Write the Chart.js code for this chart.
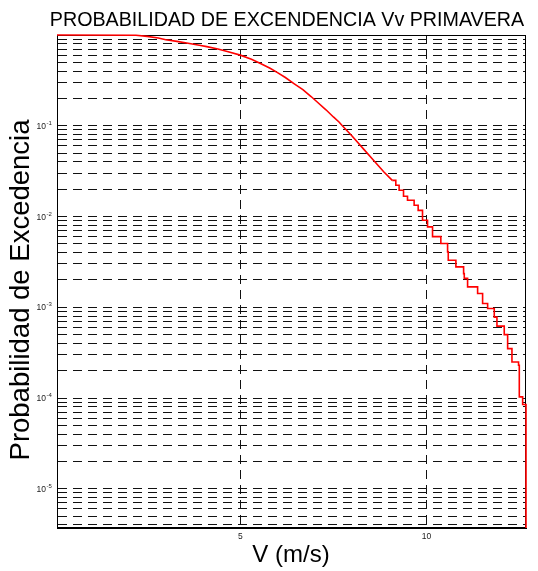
<!DOCTYPE html>
<html><head><meta charset="utf-8">
<script src="https://cdn.jsdelivr.net/npm/chart.js@4"></script>
<style>html,body{margin:0;padding:0;background:#fff;overflow:hidden}</style>
</head><body>
<canvas id="c" width="538" height="571" style="display:block;width:538px;height:571px"></canvas>
<script>
const titleText = 'PROBABILIDAD DE EXCENDENCIA Vv PRIMAVERA';
const xTitle = 'V (m/s)';
const yTitle = 'Probabilidad de Excedencia';

// upper part of the curve (steps too fine to resolve: drawn as a line)
const speedUpper = [0.08, 2.2, 2.5, 2.8, 3.0, 3.3, 3.6, 3.9, 4.1, 4.4, 4.7, 5.0, 5.3, 5.57, 5.8, 6.0, 6.21, 6.45, 6.68, 6.9, 7.05, 7.3, 7.5, 7.65, 7.74, 8.0, 8.3, 8.6, 8.85, 9.08];
const exceedUpper = [1.0, 0.995, 0.965, 0.925, 0.885, 0.85, 0.81, 0.77, 0.745, 0.70, 0.65, 0.60, 0.54, 0.48, 0.43, 0.385, 0.34, 0.29, 0.25, 0.21, 0.185, 0.15, 0.125, 0.11, 0.10, 0.077, 0.056, 0.0407, 0.0311, 0.025];
// tail of the curve (visible stairs)
const speedTail = [9.08, 9.175, 9.264, 9.382, 9.489, 9.667, 9.775, 9.892, 10.027, 10.161, 10.384, 10.565, 10.583, 10.788, 10.995, 11.013, 11.102, 11.371, 11.505, 11.64, 11.818, 11.89, 12.086, 12.177, 12.293, 12.47, 12.49, 12.58, 12.67];
const exceedTail = [0.025, 0.0221, 0.0195, 0.0167, 0.0151, 0.0133, 0.0117, 0.0091, 0.0077, 0.0060, 0.00504, 0.00408, 0.0033, 0.00279, 0.00235, 0.00208, 0.00168, 0.00142, 0.0011, 0.00097, 0.00078, 0.00062, 0.0005, 0.00035, 0.00025, 0.00023, 0.000103, 0.000085, 0.0000037];

const xTickValues = [5, 10];
const yTickExponents = [-1, -2, -3, -4, -5];
const xRange = [0.08, 12.67];
const yRange = [3.7e-6, 1];

const FONT = "'Liberation Sans', Arial, sans-serif";

function logGridTicks(min, max) {
  const t = [];
  for (let k = Math.floor(Math.log10(min)); k <= Math.ceil(Math.log10(max)); k++) {
    for (let m = 1; m <= 9; m++) {
      const v = m * Math.pow(10, k);
      if (v >= min * 0.999 && v <= max * 1.001) t.push({value: v});
    }
  }
  return t;
}

const framePlugin = {
  id: 'frame',
  beforeDatasetsDraw(chart) {
    const {ctx, chartArea: a} = chart;
    ctx.save();
    ctx.strokeStyle = '#000';
    ctx.lineWidth = 1;
    ctx.strokeRect(Math.round(a.left) + 0.5, Math.round(a.top) + 0.5,
      Math.round(a.right - a.left) - 1, Math.round(a.bottom - a.top) - 1);
    ctx.restore();
  },
  afterDraw(chart) {
    const {ctx} = chart;
    const ys = chart.scales.y;
    ctx.save();
    ctx.fillStyle = '#000';
    ctx.font = '19.7px ' + FONT;
    ctx.textAlign = 'center';
    ctx.textBaseline = 'alphabetic';
    ctx.fillText(titleText, 287, 26);
    ctx.font = '24px ' + FONT;
    ctx.fillText(xTitle, 291, 562);
    ctx.save();
    ctx.translate(29, 290);
    ctx.rotate(-Math.PI / 2);
    ctx.font = '27.5px ' + FONT;
    ctx.fillText(yTitle, 0, 0);
    ctx.restore();
    ctx.fillStyle = '#222';
    yTickExponents.forEach(e => {
      const py = ys.getPixelForValue(Math.pow(10, e));
      ctx.textAlign = 'right';
      ctx.font = '8.5px ' + FONT;
      ctx.fillText('10', 46, py + 3);
      ctx.textAlign = 'left';
      ctx.font = '6px ' + FONT;
      ctx.fillText(String(e), 46.5, py - 1);
    });
    ctx.restore();
  }
};

const lineStyle = {borderColor: '#ff0000', borderWidth: 1.6, pointRadius: 0, fill: false, clip: 4};

new Chart(document.getElementById('c'), {
  type: 'line',
  data: {
    datasets: [
      Object.assign({data: speedUpper.map((v, i) => ({x: v, y: exceedUpper[i]})), tension: 0}, lineStyle),
      Object.assign({data: speedTail.map((v, i) => ({x: v, y: exceedTail[i]})), stepped: 'before'}, lineStyle)
    ]
  },
  options: {
    responsive: false,
    animation: false,
    events: [],
    layout: {padding: {left: 57, top: 35, right: 12, bottom: 0}},
    plugins: {legend: {display: false}, tooltip: {enabled: false}, title: {display: false}},
    scales: {
      x: {
        type: 'linear', min: xRange[0], max: xRange[1],
        afterBuildTicks: s => { s.ticks = xTickValues.map(v => ({value: v})); },
        afterFit: s => { s.height = 43; },
        grid: {color: '#111', lineWidth: 1, drawTicks: false},
        border: {display: true, color: '#000', width: 1, dash: [9, 6]},
        ticks: {font: {size: 8.5, family: FONT}, color: '#222', padding: 4, maxRotation: 0, autoSkip: false}
      },
      y: {
        type: 'logarithmic', min: yRange[0], max: yRange[1],
        afterBuildTicks: s => { s.ticks = logGridTicks(yRange[0], yRange[1]); },
        afterFit: s => { s.width = 0; },
        grid: {color: '#111', lineWidth: 1, drawTicks: false},
        border: {display: true, color: '#000', width: 1, dash: [9, 6]},
        ticks: {display: false}
      }
    }
  },
  plugins: [framePlugin]
});
</script>
</body></html>
